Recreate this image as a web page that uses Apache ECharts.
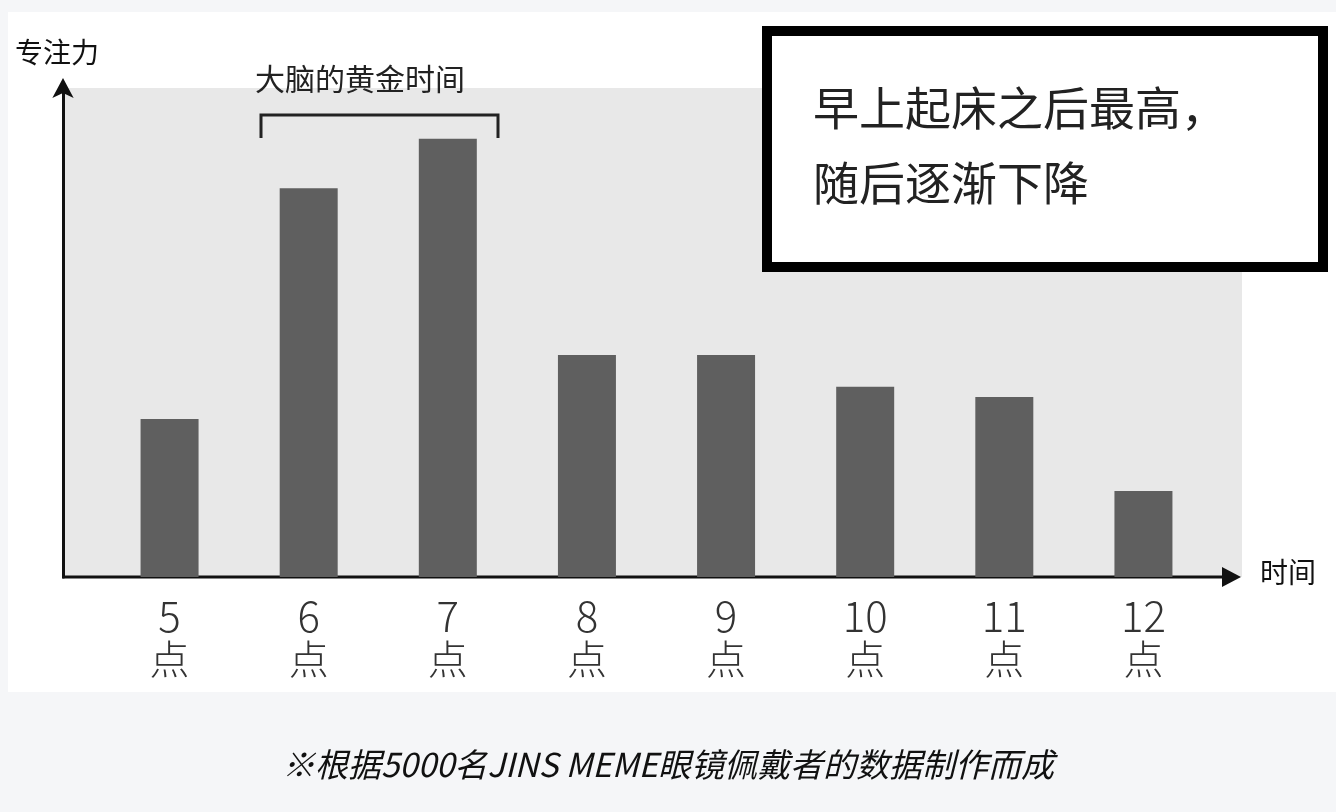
<!DOCTYPE html>
<html><head><meta charset="utf-8">
<script src="https://cdn.jsdelivr.net/npm/echarts@6/dist/echarts.min.js"></script>
<style>html,body{margin:0;padding:0;background:#f5f6f8}#c{width:1336px;height:812px}</style>
</head><body><div id="c"></div>
<script>
const categories = ['5','6','7','8','9','10','11','12'];
const values = [32.3, 79.5, 89.6, 45.4, 45.4, 38.9, 36.8, 17.6];
const F = '"Noto Sans CJK SC", sans-serif';
const chart = echarts.init(document.getElementById('c'));
chart.setOption({
  backgroundColor: '#f5f6f8',
  animation: false,
  grid: {left: 100, right: 123, top: 88, bottom: 235},
  xAxis: {type: 'category', data: categories,
    axisLine: {show: false}, axisTick: {show: false},
    axisLabel: {margin: 18, formatter: v => '{n|' + v + '}\n{d|点}',
      rich: {n: {fontSize: 42, fontFamily: F, color: '#333', lineHeight: 42, fontWeight: 300},
             d: {fontSize: 40, fontFamily: F, color: '#333', lineHeight: 44, fontWeight: 300}}}},
  yAxis: {type: 'value', min: 0, max: 100, offset: 37,
    axisLine: {show: true, lineStyle: {color: '#111', width: 3}, symbol: ['none', 'arrow'], symbolSize: [16, 20], symbolOffset: [0, 10]},
    axisLabel: {show: false}, axisTick: {show: false}, splitLine: {show: false}},
  graphic: [
    {type: 'rect', z: -10, shape: {x: 8, y: 12, width: 1328, height: 680}, style: {fill: '#fff'}},
    {type: 'rect', z: -5, shape: {x: 65, y: 88, width: 1177, height: 489}, style: {fill: '#e8e8e8'}},
    {type: 'line', shape: {x1: 62, y1: 577, x2: 1225, y2: 577}, style: {stroke: '#111', lineWidth: 3}},
    {type: 'polygon', shape: {points: [[1222, 567], [1241, 577], [1222, 587]]}, style: {fill: '#111'}},
    {type: 'text', left: 15, top: 38, style: {text: '专注力', font: '28px ' + F, fill: '#111'}},
    {type: 'text', left: 1260, top: 558, style: {text: '时间', font: '28px ' + F, fill: '#111'}},
    {type: 'text', left: 255, top: 64, style: {text: '大脑的黄金时间', font: '30px ' + F, fill: '#222'}},
    {type: 'polyline', shape: {points: [[261, 138], [261, 115], [498, 115], [498, 138]]}, style: {stroke: '#222', lineWidth: 3, fill: null}},
    {type: 'rect', shape: {x: 767, y: 31, width: 556, height: 236}, style: {fill: '#fff', stroke: '#000', lineWidth: 10}},
    {type: 'text', left: 813, top: 85, style: {text: '早上起床之后最高，', font: '46px ' + F, fill: '#222'}},
    {type: 'text', left: 813, top: 160, style: {text: '随后逐渐下降', font: '46px ' + F, fill: '#222'}},
    {type: 'text', left: 'center', top: 748, style: {text: '※根据5000名JINS MEME眼镜佩戴者的数据制作而成', font: 'italic 33px ' + F, fill: '#111'}}
  ],
  series: [{type: 'bar', data: values, barWidth: 58, itemStyle: {color: '#5f5f5f'}}]
});
</script></body></html>
